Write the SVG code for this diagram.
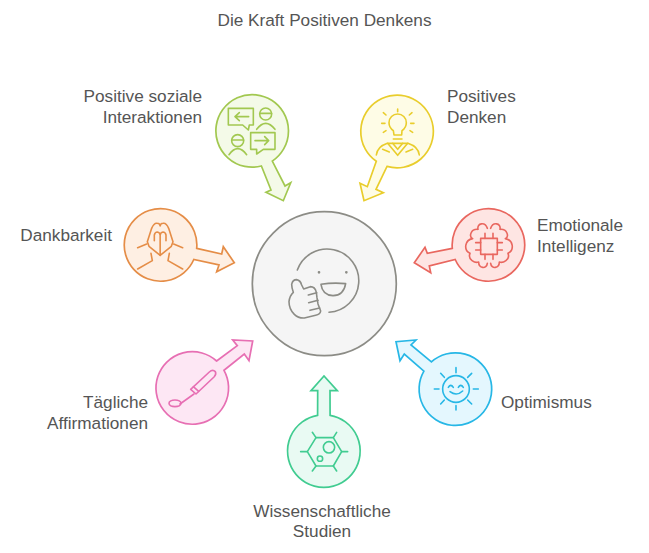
<svg xmlns="http://www.w3.org/2000/svg" width="649" height="553" viewBox="0 0 649 553">
<style>
text{font-family:"Liberation Sans",Arial,sans-serif;font-size:17.2px;fill:#555}
.e{text-anchor:end}.m{text-anchor:middle}
.s{stroke-width:1.7;stroke-linejoin:miter}
.i{fill:none;stroke-width:4.8;stroke-linecap:round;stroke-linejoin:round}
.lime{fill:#f4fae8;stroke:#a2c850}.limei{stroke:#a2c850}
.yel{fill:#fefce6;stroke:#e9cd2c}.yeli{stroke:#e9cd2c}
.red{fill:#fee5e3;stroke:#e9675f}.redi{stroke:#e9675f}
.blu{fill:#e4f7fe;stroke:#27b7e6}.blui{stroke:#27b7e6}
.tea{fill:#e9faf3;stroke:#41cc91}.teai{stroke:#41cc91}
.pin{fill:#fde7f4;stroke:#e76fb3}.pini{stroke:#e76fb3}
.ora{fill:#feefe3;stroke:#e58d47}.orai{stroke:#e58d47}
.gry{stroke:#8c8c86}
</style>
<rect width="649" height="553" fill="#fff"/>
<text class="m" x="324.500" y="26">Die Kraft Positiven Denkens</text>
<g id="connectors">
<path class="s lime" d="M261.400 166L271 190L266 192.300L283.300 200.700L290.700 182.700L285 186L272.300 161.100A36.300 36.300 0 1 0 261.400 166Z"/>
<path class="s yel" d="M376.300 161.300L367.300 186.700L360 183.300L364 200.700L383.300 192.700L376 189.300L387 166.400A36.300 36.300 0 1 0 376.300 161.300Z"/>
<path class="s red" d="M452.300 248.300L427.300 253.300L425 247.300L414.300 262.700L430.700 272.700L429.300 266L455.200 259.500A36.300 36.300 0 1 0 452.300 248.300Z"/>
<path class="s blu" d="M431.400 361.900L411 345L416 340L396 341.700L400 360.700L404.300 354L423.900 371.100A36.300 36.300 0 1 0 431.400 361.900Z"/>
<path class="s tea" d="M317.600 415.300L317.700 390.700L311 390.700L324 376L337.300 390.700L330 390.700L330.100 415.300A36.300 36.300 0 1 1 317.600 415.300Z"/>
<path class="s pin" d="M216.600 361L237.300 345.700L232.700 340L252.700 341L249 360.700L244.300 354L224 370.300A36.300 36.300 0 1 1 216.600 361Z"/>
<path class="s ora" d="M196.700 248.300L221.700 254L223.300 246.700L234.300 262.700L216.700 271.700L219 265L193.800 259.500A36.300 36.300 0 1 1 196.700 248.300Z"/>
</g>
<g id="center">
<circle class="s gry" cx="324.300" cy="283.700" r="72" fill="#f5f5f5"/>
<g class="i gry" transform="translate(245 205) scale(.3333)">
<path d="M157 195A95 95 0 1 1 252 322"/>
<path d="M222 202h.1M304 202h.1" style="stroke-width:8"/>
<path d="M228 238Q265 232 302 236Q296 272 264 272Q232 270 228 238Z"/>
<path d="M145 262Q140 248 140 238Q143 224 155 224Q166 226 170 240L176 252L196 245Q210 245 214 262L216 278L219 297L227 318Q226 328 212 331L178 339Q160 340 148 328Q132 312 132 290Q134 272 145 262Z"/>
<path d="M190 270L215 263M191 293L219 286M195 316L224 309"/>
</g>
</g>
<g id="positive-soziale-interaktionen">
<g class="i limei" transform="translate(200 90) scale(.3333)">
<path d="M85 55H160V105H148L145 120L128 105H85Z"/>
<path d="M105 80H146M118 68L105 80L118 92"/>
<circle cx="197" cy="72" r="18"/><path d="M179 70H215M170 118Q197 82 225 118"/>
<circle cx="113" cy="152" r="18"/><path d="M95 150H131M87 194Q113 158 140 194"/>
<path d="M152 128H225V178H190L170 192V178H152Z"/>
<path d="M165 152H206M194 140L206 152L194 164"/>
</g>
<text class="e" x="202" y="102">Positive soziale</text>
<text class="e" x="202" y="123">Interaktionen</text>
</g>
<g id="positives-denken">
<g class="i yeli" transform="translate(350 90) scale(.3333)">
<path d="M130 122Q117 112 117 98A26 26 0 1 1 169 98Q169 112 156 122L155 135H132Z"/>
<path d="M130 147H156M143 57V65M100 68L108 75M186 68L178 75M95 100H105M182 100H192M100 127L108 122M188 127L180 122"/>
<path d="M79 195Q82 170 112 160H174Q205 170 208 195"/>
<path d="M113 160L143 196L173 160M128 160L143 178L158 160M98 178L118 186M188 178L168 186"/>
</g>
<text x="447" y="102">Positives</text>
<text x="447" y="123">Denken</text>
</g>
<g id="emotionale-intelligenz">
<g class="i redi" transform="translate(410 200) scale(.3333)">
<rect x="212" y="115" width="50" height="48"/>
<path d="M225 100V115M249 100V115M225 163V178M249 163V178M197 128H212M197 150H212M262 128H277M262 150H277"/>
<path d="M232 85C226 65 200 68 204 88C182 86 176 110 188 116C164 120 160 150 180 160C172 180 196 190 206 186C206 206 230 208 232 190"/>
<path d="M242 85C248 65 274 68 270 88C292 86 298 110 286 116C310 120 314 150 294 160C302 180 278 190 268 186C268 206 244 208 242 190"/>
</g>
<text x="537" y="231">Emotionale</text>
<text x="537" y="252">Intelligenz</text>
</g>
<g id="optimismus">
<g class="i blui" transform="translate(390 330) scale(.3333)">
<circle cx="198" cy="177" r="40"/>
<path d="M198 113V128M198 227V240M133 177H147M250 177H265M152 130L163 142M245 130L233 142M152 222L163 210M245 222L233 210"/>
<path d="M175 172Q182 160 190 172M205 172Q212 160 220 172M180 185Q200 200 218 183"/>
</g>
<text x="501" y="408">Optimismus</text>
</g>
<g id="wissenschaftliche-studien">
<g class="i teai" transform="translate(280 370) scale(.3333)">
<path d="M82 245L108 203H160L185 245L160 288H108Z"/>
<path d="M62 245H82M185 245H203M97 187L108 203M170 187L160 203M97 303L108 288M170 303L160 288"/>
<circle cx="147" cy="232" r="17"/><circle cx="120" cy="266" r="8"/>
</g>
<text class="m" x="322" y="517">Wissenschaftliche</text>
<text class="m" x="322" y="537">Studien</text>
</g>
<g id="taegliche-affirmationen">
<g class="i pini" transform="translate(150 330) scale(.3333)">
<path d="M122 178L178 126Q188 117 196 125Q200 133 192 141L138 192Z"/>
<path d="M130 170L146 184M132 192L90 222"/>
<ellipse cx="75" cy="220" rx="18" ry="10"/>
</g>
<text class="e" x="148" y="408">Tägliche</text>
<text class="e" x="148" y="429">Affirmationen</text>
</g>
<g id="dankbarkeit">
<g class="i orai" transform="translate(115 200) scale(.3333)">
<path d="M135.500 166L102 139L97 125L110 85Q117 68 127 70Q135 71 135.500 78Q136 71 144 70Q154 68 161 85L174 125L169 139Z"/>
<path d="M118 122V105Q120 96 127 96Q135 97 135.500 106Q136 97 144 96Q151 96 153 105V122M135.500 106V166"/>
<path d="M68 143L95 132M68 207L112 182L108 160M203 143L176 132M203 207L159 182L163 160"/>
</g>
<text class="e" x="112" y="241">Dankbarkeit</text>
</g>
</svg>
